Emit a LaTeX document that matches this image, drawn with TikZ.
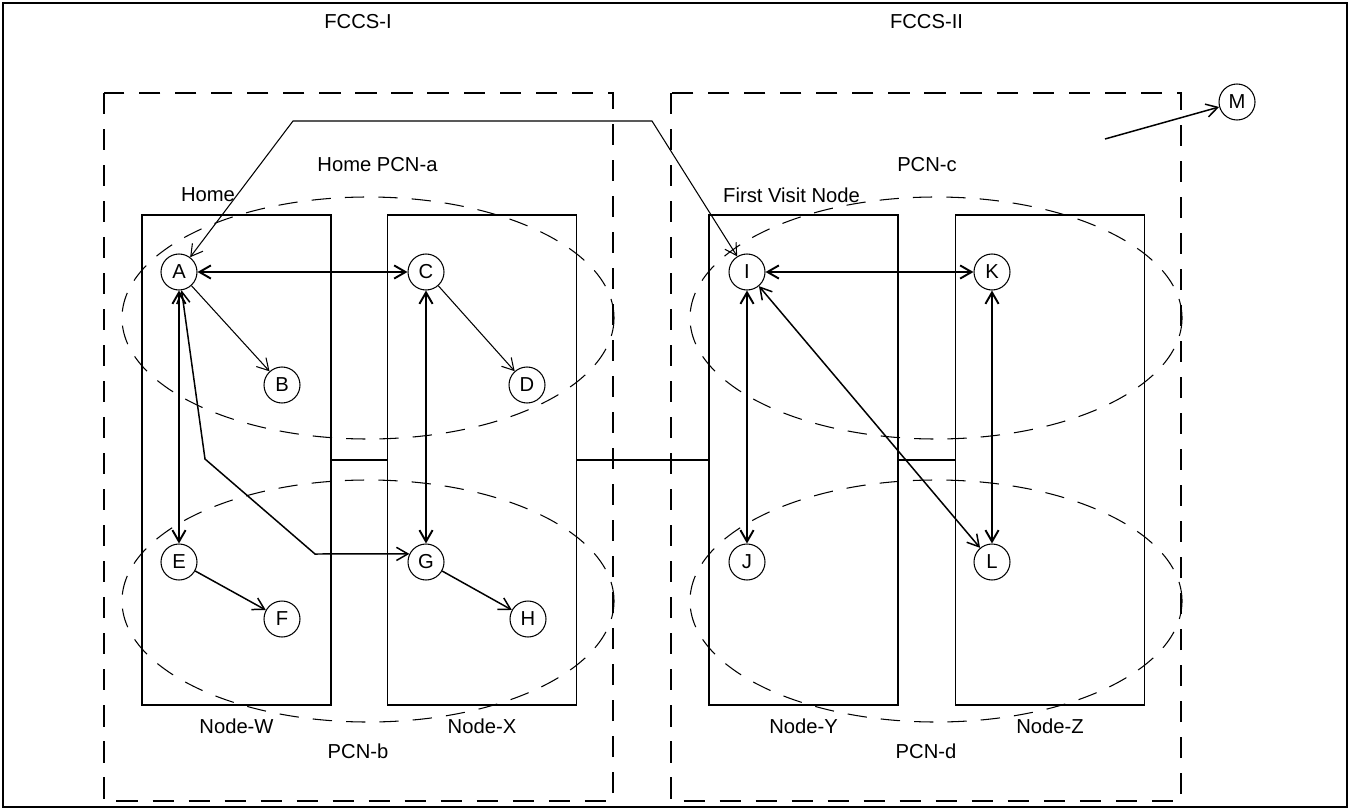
\documentclass[tikz,border=0pt]{standalone}
\usepackage{fontspec}
\setmainfont{Liberation Sans}
\usetikzlibrary{arrows.meta}

\tikzset{
  netbox/.style={draw, line width=1.1pt, minimum width=3.78cm, minimum height=9.8cm, inner sep=0pt},
  fccsbox/.style={line width=1.1pt, dash pattern=on 12pt off 8.5pt},
  pcnring/.style={line width=0.6pt, dash pattern=on 11pt off 8pt},
  tag/.style={font=\fontsize{11.5}{13}\selectfont},
  visitpt/.style={draw, circle, line width=0.6pt, minimum size=0.72cm, inner sep=0pt, tag},
  link/.style={line width=1.1pt},
  midlink/.style={line width=0.85pt},
  thinlink/.style={line width=0.6pt},
}

\begin{document}
\begin{tikzpicture}[>={Straight Barb[length=6.5pt,width=7.5pt]}]
  \useasboundingbox (0,0) rectangle (27,-16.2);
  \draw[line width=1pt] (0.06,-0.06) rectangle (26.94,-16.14);

  %% FCCS areas
  \draw[fccsbox] (2.08,-1.86) rectangle (12.26,-16.02);
  \draw[fccsbox] (13.42,-1.86) rectangle (23.62,-16.02);
  \node[tag] (fccsI) at (7.16,-0.44) {FCCS-I};
  \node[tag] (fccsII) at (18.53,-0.44) {FCCS-II};

  %% network nodes
  \node[netbox] (W) at (4.73,-9.2) {};
  \node[netbox] (X) at (9.64,-9.2) {};
  \node[netbox] (Y) at (16.07,-9.2) {};
  \node[netbox] (Z) at (21.0,-9.2) {};
  \node[tag] (Wlbl) at ([yshift=-0.4cm]W.south) {Node-W};
  \node[tag] (Xlbl) at ([yshift=-0.4cm]X.south) {Node-X};
  \node[tag] (Ylbl) at ([yshift=-0.4cm]Y.south) {Node-Y};
  \node[tag] (Zlbl) at ([yshift=-0.4cm]Z.south) {Node-Z};
  \draw[line width=1.7pt] (W.east) -- (X.west);
  \draw[link] (X.east) -- (Y.west);
  \draw[line width=1.7pt] (Y.east) -- (Z.west);

  %% PCN rings
  \draw[pcnring] (7.36,-6.36) ellipse [x radius=4.92cm, y radius=2.42cm];
  \draw[pcnring] (7.36,-12.02) ellipse [x radius=4.92cm, y radius=2.42cm];
  \draw[pcnring] (18.72,-6.36) ellipse [x radius=4.92cm, y radius=2.42cm];
  \draw[pcnring] (18.72,-12.02) ellipse [x radius=4.92cm, y radius=2.42cm];
  \node[tag] (pcna) at (7.55,-3.3) {Home PCN-a};
  \node[tag] (pcnb) at (7.16,-15.02) {PCN-b};
  \node[tag] (pcnc) at (18.54,-3.3) {PCN-c};
  \node[tag] (pcnd) at (18.52,-15.02) {PCN-d};
  \node[tag] (home) at (4.16,-3.9) {Home};
  \node[tag] (first) at (15.83,-3.9) {First Visit Node};

  %% points
  \node[visitpt] (A) at (3.58,-5.44) {A};
  \node[visitpt] (B) at (5.64,-7.7) {B};
  \node[visitpt] (C) at (8.52,-5.44) {C};
  \node[visitpt] (D) at (10.54,-7.7) {D};
  \node[visitpt] (E) at (3.58,-11.24) {E};
  \node[visitpt] (F) at (5.64,-12.38) {F};
  \node[visitpt] (G) at (8.52,-11.24) {G};
  \node[visitpt] (H) at (10.56,-12.38) {H};
  \node[visitpt] (I) at (14.94,-5.44) {I};
  \node[visitpt] (J) at (14.94,-11.24) {J};
  \node[visitpt] (K) at (19.84,-5.44) {K};
  \node[visitpt] (L) at (19.84,-11.24) {L};
  \node[visitpt] (M) at (24.74,-2.04) {M};

  %% bends and free ends
  \coordinate (topA) at (5.86,-2.42);
  \coordinate (topI) at (13.04,-2.42);
  \coordinate (bendW) at (4.1,-9.18);
  \coordinate (bendX) at (6.3,-11.08);
  \coordinate (mstart) at (22.1,-2.78);

  %% links
  \draw[link,<->] (A) -- (C);
  \draw[thinlink,->] (A) -- (B);
  \draw[thinlink,->] (C) -- (D);
  \draw[link,<->] (A) -- (E);
  \draw[link,<->] (C) -- (G);
  \draw[midlink,->] (E) -- (F);
  \draw[midlink,->] (G) -- (H);
  \draw[midlink,<->] (A) -- (bendW) -- (bendX) -- (G.154);
  \draw[thinlink,<->] (A) -- (topA) -- (topI) -- (I);
  \draw[link,<->] (I) -- (K);
  \draw[link,<->] (I) -- (J);
  \draw[link,<->] (K) -- (L);
  \draw[midlink,<->] (I) -- (L);
  \draw[midlink,->] (mstart) -- (M);
\end{tikzpicture}
\end{document}
